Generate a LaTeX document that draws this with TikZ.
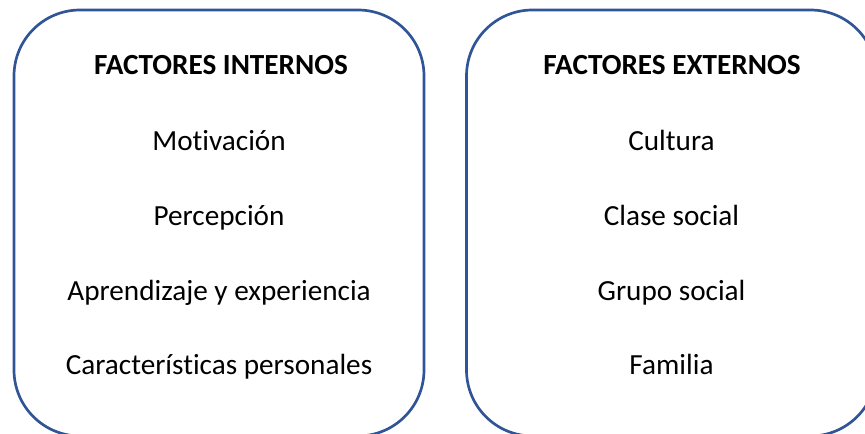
\documentclass[tikz,border=0pt]{standalone}
\usepackage{fontspec}
\setmainfont{Carlito}[Ligatures=NoCommon]
\definecolor{boxblue}{HTML}{2F5597}
\begin{document}
\begin{tikzpicture}[x=0.75pt,y=-0.75pt,
  panel/.style={draw=boxblue,line width=2pt,rounded corners=49.5pt,minimum width=307.5pt,minimum height=319.5pt,inner sep=0pt},
  head/.style={font=\fontsize{21.9}{26}\selectfont\bfseries,inner sep=0pt,anchor=base},
  item/.style={font=\fontsize{21.9}{26}\selectfont,inner sep=0pt,anchor=base}]
\useasboundingbox (0,0) rectangle (865,434);
\clip (0,0) rectangle (865,434);
\node[panel] (left) at (219,223) {};
\node[panel] (right) at (671.5,223) {};
\node[head] (h1) at (221,75) {FACTORES INTERNOS};
\node[item] (a1) at (219,151) {Motivación};
\node[item] (a2) at (219,226) {Percepción};
\node[item] (a3) at (219,301) {Aprendizaje y experiencia};
\node[item] (a4) at (219,375) {Características personales};
\node[head] (h2) at (672,75) {FACTORES EXTERNOS};
\node[item] (b1) at (671.5,151) {Cultura};
\node[item] (b2) at (671.5,226) {Clase social};
\node[item] (b3) at (671.5,301) {Grupo social};
\node[item] (b4) at (671.5,375) {Familia};
\end{tikzpicture}
\end{document}
